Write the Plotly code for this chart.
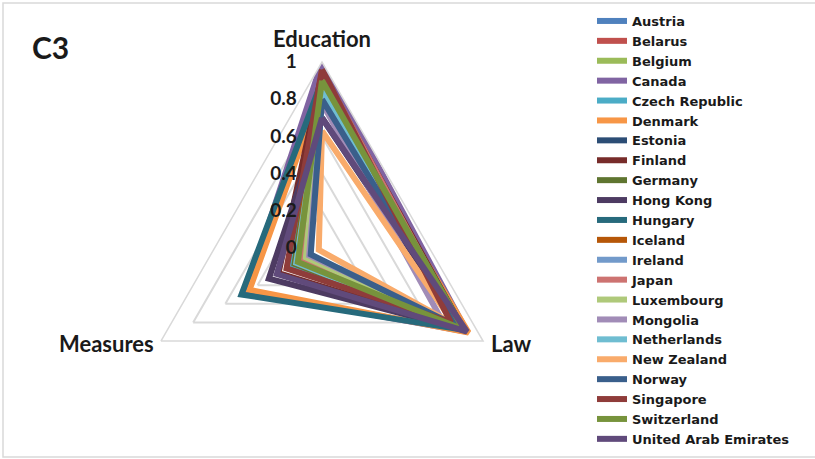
import plotly.graph_objects as go

axes = ["Education", "Law", "Measures"]

countries = ["Austria", "Belarus", "Belgium", "Canada", "Czech Republic", "Denmark",
             "Estonia", "Finland", "Germany", "Hong Kong", "Hungary", "Iceland",
             "Ireland", "Japan", "Luxembourg", "Mongolia", "Netherlands", "New Zealand",
             "Norway", "Singapore", "Switzerland", "United Arab Emirates"]

education = [0.92, 0.95, 0.90, 1.00, 0.85, 0.86, 0.88, 0.94, 0.90, 0.70, 0.90, 0.93,
             0.82, 0.95, 0.88, 0.78, 0.84, 0.63, 0.80, 0.96, 0.90, 0.70]
law = [0.88, 0.87, 0.86, 0.90, 0.87, 0.91, 0.88, 0.88, 0.87, 0.88, 0.88, 0.86,
       0.86, 0.86, 0.85, 0.73, 0.86, 0.82, 0.86, 0.80, 0.88, 0.90]
measures = [0.10, 0.18, 0.14, 0.47, 0.21, 0.45, 0.14, 0.27, 0.17, 0.33, 0.50, 0.16,
            0.12, 0.12, 0.10, 0.08, 0.16, 0.02, 0.07, 0.22, 0.15, 0.28]

colors = ["#4F81BD", "#C0504D", "#9BBB59", "#8064A2", "#4BACC6", "#F79646",
          "#2C4D75", "#772C2A", "#5F7530", "#4D3B62", "#276A7C", "#B65708",
          "#729ACA", "#CD7371", "#AFC97A", "#A18CB7", "#6FBDD1", "#F9AB6B",
          "#3A5F8B", "#8F3C3A", "#77933C", "#604A7B"]

radial_ticks = [0, 0.2, 0.4, 0.6, 0.8, 1]
radial_labels = ["0", "0.2", "0.4", "0.6", "0.8", "1"]

FONT = "Lato"
LEG_FONT = "DejaVu Sans"
TXT = "#1a1a1a"

fig = go.Figure()
for name, e, l, m, c in zip(countries, education, law, measures, colors):
    fig.add_trace(go.Scatterpolar(
        r=[e, l, m, e],
        theta=axes + [axes[0]],
        mode="lines",
        name=name,
        line=dict(color=c, width=6),
    ))

W, H = 815, 459
cx, cy, R = 322, 248, 186

# axis name labels (placed like the reference: centred on the vertex level)
label_pos = {
    "Education": dict(x=322, y=38, xanchor="center"),
    "Law": dict(x=489, y=343, xanchor="left"),
    "Measures": dict(x=156, y=343, xanchor="right"),
}
annotations = [dict(
    text="C3", x=30 / W, y=1 - 47 / H, xref="paper", yref="paper",
    xanchor="left", yanchor="middle", showarrow=False,
    font=dict(size=30, family=FONT, weight="bold", color=TXT),
)]
for a in axes:
    p = label_pos[a]
    annotations.append(dict(
        text=a, x=p["x"] / W, y=1 - p["y"] / H, xref="paper", yref="paper",
        xanchor=p["xanchor"], yanchor="middle", showarrow=False,
        font=dict(size=22, family=FONT, weight="bold", color=TXT),
    ))

fig.update_layout(
    width=W, height=H,
    margin=dict(l=0, r=0, t=0, b=0),
    paper_bgcolor="white",
    plot_bgcolor="white",
    font=dict(family=FONT, color=TXT),
    polar=dict(
        domain=dict(x=[(cx - R) / W, (cx + R) / W],
                    y=[(H - (cy + R)) / H, (H - (cy - R)) / H]),
        gridshape="linear",
        bgcolor="white",
        radialaxis=dict(
            range=[0, 1],
            tickvals=radial_ticks,
            ticktext=radial_labels,
            angle=90,
            tickangle=90,
            side="counterclockwise",
            showline=False,
            gridcolor="#D9D9D9",
            gridwidth=1.5,
            ticks="outside",
            ticklen=18,
            tickcolor="rgba(0,0,0,0)",
            tickfont=dict(size=19, family=FONT, weight="bold", color=TXT),
        ),
        angularaxis=dict(
            type="category",
            categoryarray=axes,
            rotation=90,
            direction="clockwise",
            showgrid=False,
            showline=True,
            linecolor="#D9D9D9",
            linewidth=1.5,
            ticks="",
            showticklabels=False,
        ),
    ),
    legend=dict(
        x=592 / W, xanchor="left",
        y=1 - 6 / H, yanchor="top",
        font=dict(size=13, family=LEG_FONT, weight="bold", color=TXT),
        bgcolor="rgba(0,0,0,0)",
        tracegroupgap=0,
    ),
    showlegend=True,
    annotations=annotations,
    shapes=[dict(
        type="rect", xref="paper", yref="paper",
        x0=3 / W, x1=1.01, y0=1 - 457 / H, y1=1 - 3 / H,
        line=dict(color="#D9D9D9", width=1.5), fillcolor="rgba(0,0,0,0)",
        layer="below",
    )],
)

fig.write_html("out.html")
